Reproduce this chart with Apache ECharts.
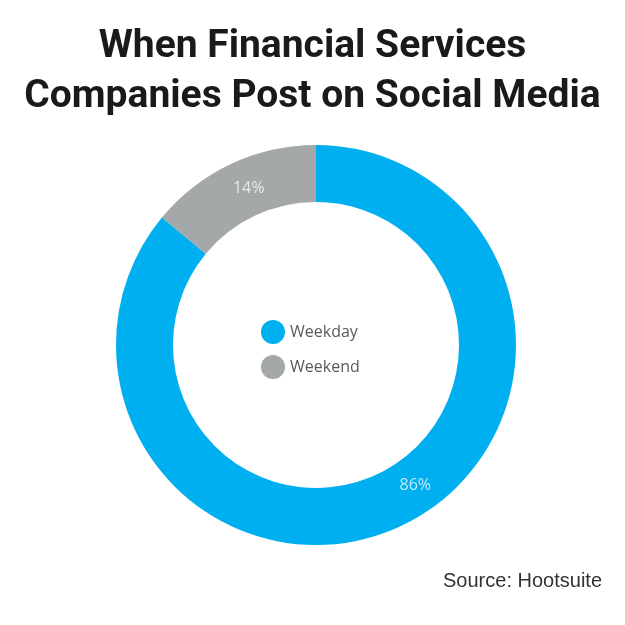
<!DOCTYPE html>
<html><head><meta charset="utf-8">
<script src="https://cdn.jsdelivr.net/npm/echarts@6/dist/echarts.min.js"></script>
<style>html,body{margin:0;padding:0;background:#fff}#c{width:625px;height:625px}</style>
</head><body><div id="c"></div>
<script>
const categories = ['Weekday', 'Weekend'];
const values = [86, 14];
const colors = ['#00AFEF', '#A5A8A9'];
const titleText = 'When Financial Services\nCompanies Post on Social Media';
const sourceText = 'Source: Hootsuite';

const chart = echarts.init(document.getElementById('c'));
chart.setOption({
  backgroundColor: '#fff',
  animation: false,
  title: [{
    text: titleText,
    left: 'center',
    top: 17,
    textStyle: { fontFamily: 'Roboto', fontWeight: 'bold', fontSize: 39, lineHeight: 50, color: '#1a1a1a' }
  }, {
    text: sourceText,
    right: 18,
    top: 566,
    textStyle: { fontFamily: 'Liberation Sans', fontWeight: 'normal', fontSize: 20, color: '#333' }
  }],
  legend: {
    orient: 'vertical',
    left: 256,
    top: 315,
    icon: 'circle',
    itemWidth: 24,
    itemHeight: 24,
    itemGap: 11,
    textStyle: { fontFamily: 'Open Sans', fontSize: 16, color: '#5a5a5a' },
    data: categories
  },
  series: [{
    type: 'pie',
    center: [316, 345],
    radius: [143, 200],
    startAngle: 90,
    clockwise: true,
    silent: true,
    label: {
      show: true,
      position: 'inside',
      formatter: '{c}%',
      fontFamily: 'Open Sans',
      fontSize: 16,
      color: 'rgba(255,255,255,0.75)'
    },
    labelLine: { show: false },
    data: categories.map((n, i) => ({
      name: n,
      value: values[i],
      itemStyle: { color: colors[i] },
      label: { offset: i === 0 ? [25, -17] : [7, 1] }
    }))
  }]
});
</script></body></html>
